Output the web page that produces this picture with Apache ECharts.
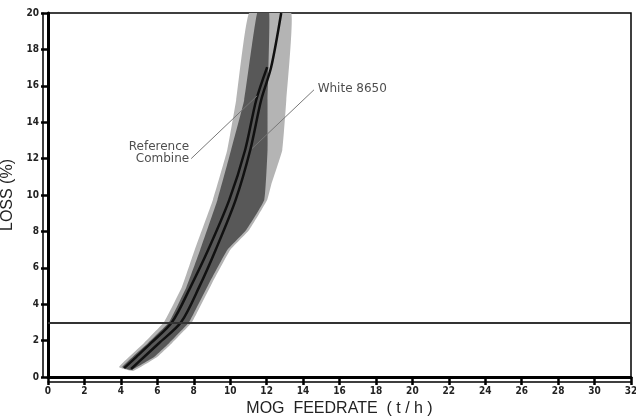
<!DOCTYPE html>
<html><head><meta charset="utf-8">
<script src="https://cdn.jsdelivr.net/npm/echarts@6/dist/echarts.min.js"></script>
<style>html,body{margin:0;padding:0;background:#fff}#c{width:636px;height:417px}</style>
</head><body><div id="c"></div>
<script>
// x ticks / y ticks
const xTicks = [0,2,4,6,8,10,12,14,16,18,20,22,24,26,28,30,32];
const yTicks = [0,2,4,6,8,10,12,14,16,18,20];
// Reference Combine centre curve  [feedrate t/h, loss %]
const refLine = [[4.18,0.49],[4.84,1.1],[5.66,1.87],[6.81,3.02],[7.8,4.9],[8.8,7.0],[9.95,9.73],[10.82,12.47],[11.43,15.22],[12.03,17.03]];
// White 8650 centre curve
const whiteLine = [[4.56,0.44],[5.27,1.1],[6.1,1.87],[7.31,3.02],[8.3,4.95],[9.2,6.98],[10.3,9.73],[11.1,12.47],[11.7,15.22],[12.25,17.03],[12.8,20]];
// Reference Combine band (dark) – lower-left edge then upper-right edge
const refBandLeft = [[4.07,0.55],[5.49,1.87],[6.65,3.02],[7.6,4.95],[8.35,6.98],[9.3,9.73],[10.05,12.47],[10.77,15.22],[11.48,20]];
const refBandRight = [[12.14,20],[12.05,15.22],[12.05,12.47],[11.87,9.73],[10.88,8.08],[9.84,6.98],[8.85,5.16],[7.75,3.02],[6.65,1.87],[5.82,1.1],[4.56,0.38]];
// White 8650 band (light)
const whiteBandLeft = [[3.9,0.55],[5.27,1.87],[6.37,3.02],[7.35,4.95],[8.05,6.98],[9.05,9.73],[9.84,12.47],[10.33,15.22],[11.04,20]];
const whiteBandRight = [[13.35,20],[13.08,15.22],[12.86,12.47],[12.25,10.55],[12.03,9.73],[11.04,8.08],[10.0,6.98],[9.01,5.16],[7.91,3.02],[6.81,1.87],[5.99,1.1],[4.67,0.33]];
// reference threshold
const lossLimit = 3;
// annotations
const refLabelPos = [7.75,12.3];
const refLeader = [[7.86,12.0],[11.48,15.45]];
const whiteLabelPos = [14.8,15.84];
const whiteLeader = [[14.6,15.78],[11.2,12.55]];

const chart = echarts.init(document.getElementById('c'), null, {renderer:'canvas'});
const labelFont = {fontFamily:'Liberation Sans Narrow, DejaVu Sans Condensed, sans-serif', fontWeight:'bold', fontSize:10, color:'#222'};
function band(pts, fill){
  return {type:'custom', coordinateSystem:'cartesian2d', xAxisIndex:0, yAxisIndex:0, silent:true, clip:true,
    data:[[8,10]],
    renderItem:(params, api)=>({type:'polygon', shape:{points:pts.map(p=>api.coord(p)), smooth:0.1}, style:{fill:fill}})};
}
chart.setOption({
  animation:false,
  grid:{left:48, top:13, width:583, height:364, show:true, borderColor:'#000', borderWidth:1.5,
        containLabel:false, outerBoundsMode:'none'},
  xAxis:[
    {type:'value', min:0, max:32, interval:2, position:'bottom',
     axisLine:{lineStyle:{color:'#000', width:3}}, axisTick:{show:true, length:5, lineStyle:{color:'#000', width:2.5}},
     axisLabel:{show:false}, splitLine:{show:false}},
    {type:'value', min:0, max:32, interval:2, position:'bottom', offset:5,
     axisLine:{onZero:false, lineStyle:{color:'#000', width:1.5}}, axisTick:{show:true, length:3, lineStyle:{color:'#000', width:2.5}},
     axisLabel:Object.assign({margin:4, formatter:v=>xTicks.includes(v)?String(v):''}, labelFont), splitLine:{show:false},
     name:'MOG  FEEDRATE  ( t / h )', nameLocation:'middle', nameGap:17,
     nameTextStyle:{fontFamily:'Liberation Sans, Arial, sans-serif', fontSize:16, color:'#222'}}
  ],
  yAxis:[
    {type:'value', min:0, max:20, interval:2, position:'left',
     axisLine:{lineStyle:{color:'#000', width:3}}, axisTick:{show:true, length:5, lineStyle:{color:'#000', width:2.5}},
     axisLabel:{show:false}, splitLine:{show:false}},
    {type:'value', min:0, max:20, interval:2, position:'left', offset:5,
     axisLine:{onZero:false, lineStyle:{color:'#000', width:1.5}}, axisTick:{show:true, length:2, lineStyle:{color:'#000', width:2.5}},
     axisLabel:Object.assign({margin:4, formatter:v=>yTicks.includes(v)?String(v):''}, labelFont), splitLine:{show:false},
     name:'LOSS (%)', nameLocation:'middle', nameGap:20, nameRotate:90,
     nameTextStyle:{fontFamily:'Liberation Sans, Arial, sans-serif', fontSize:16, color:'#222'}}
  ],
  series:[
    band(whiteBandLeft.concat(whiteBandRight), '#b4b4b4'),
    band(refBandLeft.concat(refBandRight), '#585858'),
    {type:'line', xAxisIndex:0, yAxisIndex:0, data:refLine, smooth:0.3, showSymbol:false, silent:true,
     lineStyle:{color:'#111', width:2.5}},
    {type:'line', xAxisIndex:0, yAxisIndex:0, data:whiteLine, smooth:0.3, showSymbol:false, silent:true,
     lineStyle:{color:'#111', width:2.5}},
    {type:'scatter', xAxisIndex:0, yAxisIndex:0, symbolSize:0, silent:true,
     data:[
       {value:refLabelPos, label:{show:true, position:'left', distance:0, align:'right', formatter:'Reference\nCombine', lineHeight:12}},
       {value:whiteLabelPos, label:{show:true, position:'right', distance:0, formatter:'White 8650'}}
     ],
     label:{fontFamily:'DejaVu Sans, sans-serif', fontSize:12, color:'#222'},
     markLine:{silent:true, symbol:['none','none'], label:{show:false}, lineStyle:{color:'#777', width:1, type:'solid'},
       data:[[{coord:refLeader[0]},{coord:refLeader[1]}],[{coord:whiteLeader[0]},{coord:whiteLeader[1]}]]}},
    {type:'line', xAxisIndex:0, yAxisIndex:0, data:[], silent:true,
     markLine:{silent:true, symbol:['none','none'], label:{show:false}, lineStyle:{color:'#333', width:2, type:'solid'},
       data:[{yAxis:lossLimit}]}}
  ]
});
</script></body></html>
